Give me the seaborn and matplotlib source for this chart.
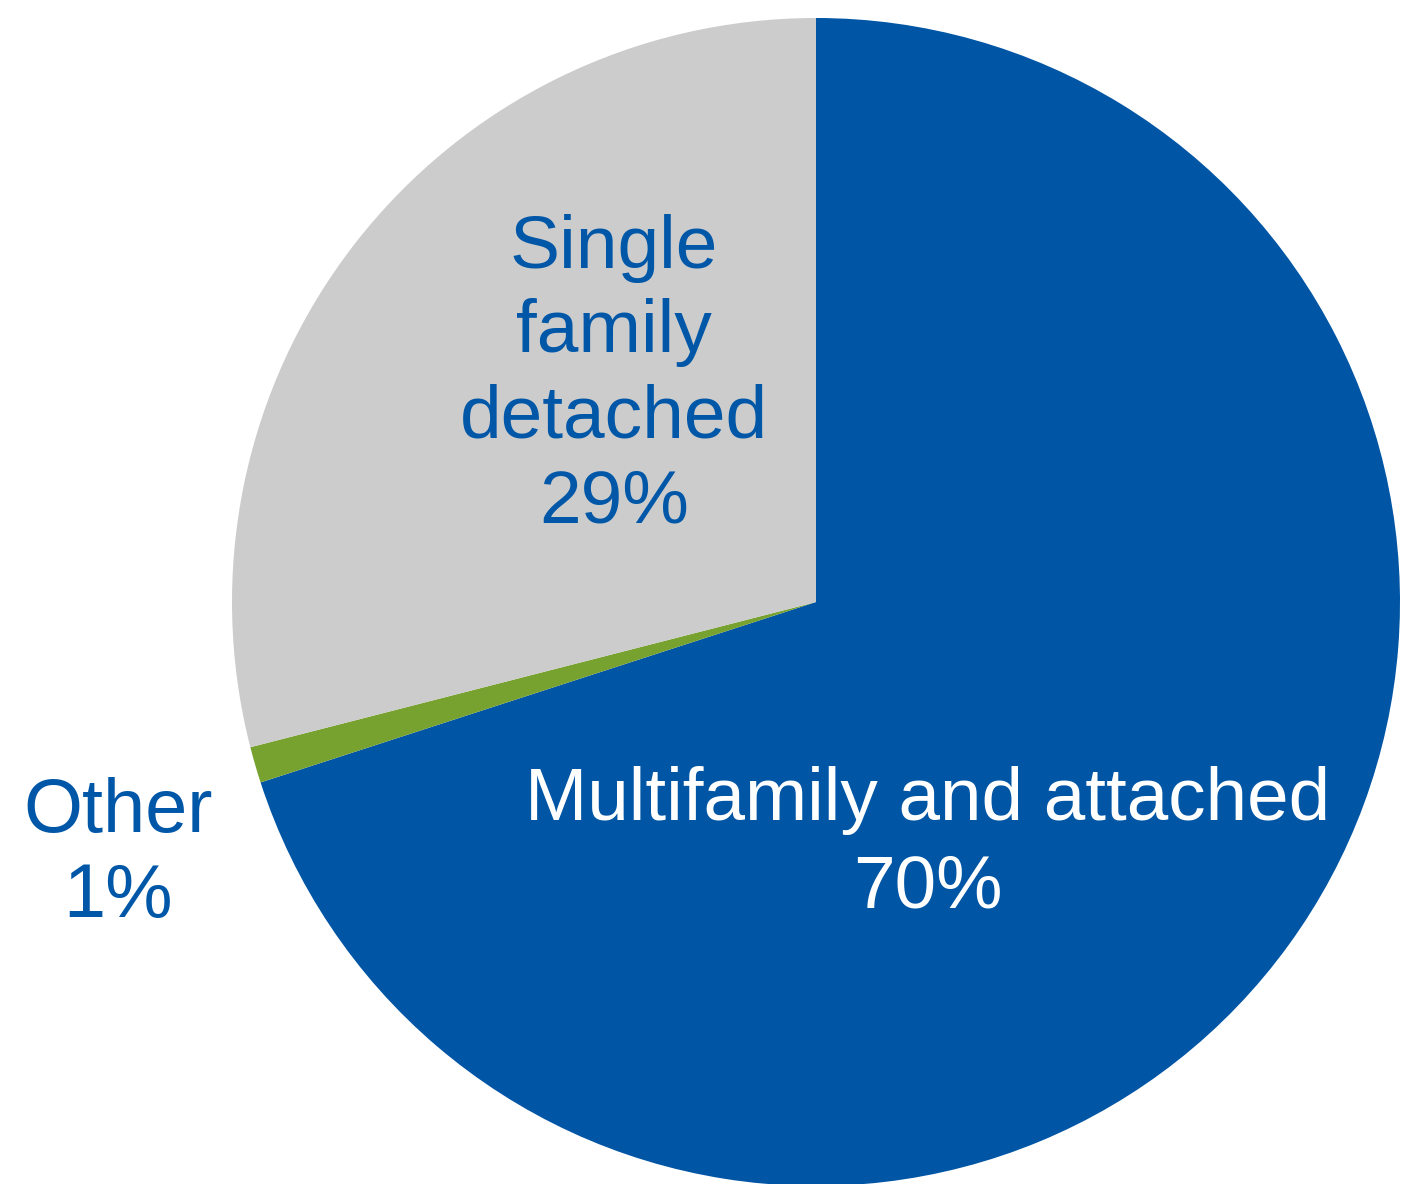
import matplotlib
matplotlib.use("Agg")
import matplotlib.pyplot as plt
import seaborn as sns

sns.set_theme(style="white")
plt.rcParams['font.family'] = ['Liberation Sans', 'DejaVu Sans']

categories = ["Multifamily and attached", "Other", "Single family detached"]
values = [70, 1, 29]
colors = ["#0055A5", "#78A22F", "#CCCCCC"]

W, H = 1414, 1184
fig = plt.figure(figsize=(W / 100, H / 100), dpi=100)
cx, cy, r = 816, 602, 584
ax = fig.add_axes([(cx - r) / W, (H - (cy + r)) / H, 2 * r / W, 2 * r / H])
ax.pie(values, colors=colors, startangle=90, counterclock=False, radius=1,
       wedgeprops=dict(linewidth=0))
ax.set_xlim(-1, 1)
ax.set_ylim(-1, 1)
ax.set_aspect('equal')
ax.axis('off')


def px(x, y):
    return (x - cx) / r, (cy - y) / r


label_lines = {
    "Multifamily and attached": (["Multifamily and attached", f"{values[0]}%"], 928, [820, 908], "white", 53.8),
    "Other": (["Other", f"{values[1]}%"], 118, [832, 917], "#0057A8", 54.5),
    "Single family detached": (["Single", "family", "detached", f"{values[2]}%"], 614, [268, 352, 438, 523], "#0057A8", 54),
}

for cat in categories:
    lines, x, ys, col, fs = label_lines[cat]
    for line, y in zip(lines, ys):
        tx, ty = px(x, y)
        ax.text(tx, ty, line, ha='center', va='baseline', color=col,
                fontsize=fs, clip_on=False)

fig.savefig("out.png", dpi=100)
